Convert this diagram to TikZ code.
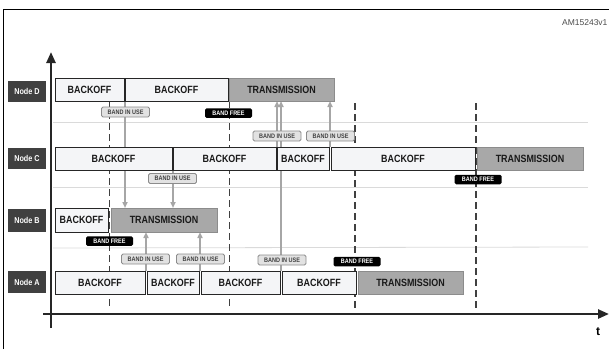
\documentclass[tikz,border=0pt]{standalone}
\usepackage{fontspec}
\setmainfont{Liberation Sans}
\newfontfamily\narrowfont[FakeStretch=0.85]{Liberation Sans}
\usetikzlibrary{arrows.meta}
\definecolor{boxfill}{HTML}{F4F5F7}
\definecolor{txfill}{HTML}{A8A8A8}
\definecolor{darklbl}{HTML}{404040}
\definecolor{arrowgray}{HTML}{A6A6A6}
\definecolor{sepgray}{HTML}{DADADA}
\definecolor{usefill}{HTML}{E2E2E2}
\definecolor{usedraw}{HTML}{8C8C8C}
\tikzset{
  slot/.style={draw=black!85, line width=0.9pt, fill=boxfill, minimum height=23pt, inner sep=0pt,
    font=\narrowfont\fontsize{10.5}{12}\bfseries, text=black!90},
  txslot/.style={slot, fill=txfill, draw=black!45},
  nodelbl/.style={fill=darklbl, text=white, minimum width=38pt, minimum height=21pt, inner sep=0pt,
    font=\narrowfont\fontsize{8.5}{10}\bfseries},
  inuse/.style={draw=usedraw, fill=usefill, rounded corners=1.5pt, line width=0.8pt,
    minimum width=48pt, minimum height=10pt, inner sep=0pt,
    font=\narrowfont\fontsize{6.5}{7}\bfseries, text=black!75},
  free/.style={fill=black, rounded corners=1.5pt, text=white,
    minimum width=47pt, minimum height=9.5pt, inner sep=0pt,
    font=\narrowfont\fontsize{6.5}{7}\bfseries},
  tline/.style={dash pattern=on 6.5pt off 4.5pt, draw=darklbl, line width=1.9pt},
  sig/.style={draw=arrowgray, line width=1.6pt, -{Triangle[width=5pt,length=6pt]}},
  sep/.style={draw=sepgray, line width=0.8pt},
  axis/.style={line width=2.4pt, draw=black!85, -{Triangle[width=9pt,length=11pt]}}
}
\begin{document}
\begin{tikzpicture}[x=1pt,y=-1pt]
\useasboundingbox (0,0) rectangle (609,349);
% frame
\draw[line width=0.9pt] (3,349) -- (3,9) -- (612,9);
\node[anchor=east, font=\fontsize{8.5}{10}\selectfont, text=black!70] (ref) at (611,23) {AM15243v1};

% separator lines
\coordinate (s1a) at (53,122); \coordinate (s1b) at (588,122);
\coordinate (s2a) at (53,187); \coordinate (s2b) at (588,187);
\coordinate (s3a) at (53,248); \coordinate (s3b) at (588,247);
\draw[sep] (s1a) -- (s1b);
\draw[sep] (s2a) -- (s2b);
\draw[sep] (s3a) -- (s3b);

% time marks (dashed)
\coordinate (t1a) at (109.5,101); \coordinate (t1b) at (109.5,308);
\coordinate (t2a) at (229.5,101); \coordinate (t2b) at (229.5,308);
\coordinate (t3a) at (355,103); \coordinate (t3b) at (355,308);
\coordinate (t4a) at (476,103); \coordinate (t4b) at (476,308);
\draw[tline] (t1a) -- (t1b);
\draw[tline] (t2a) -- (t2b);
\draw[tline] (t3a) -- (t3b);
\draw[tline] (t4a) -- (t4b);

% axes
\coordinate (ya) at (51,328); \coordinate (yb) at (51,52);
\coordinate (xa) at (43,314); \coordinate (xb) at (609,314);
\draw[axis] (ya) -- (yb);
\draw[axis] (xa) -- (xb);
\node[font=\fontsize{12}{14}\bfseries] (t) at (598,332) {t};

% signal lines (drawn before the slots so that the slots cover them)
\coordinate (g1s) at (125,101.5);
\coordinate (g2s) at (173,170.5);
\coordinate (g3s) at (277,146.5);
\coordinate (g4s) at (281,270.5);
\coordinate (g5s) at (330,146.5);
\coordinate (g6s) at (146,270.5);
\coordinate (g7s) at (200,270.5);
\coordinate (bt) at (0,208);
\coordinate (bb) at (0,232);
\coordinate (dd) at (0,101);
\draw[sig] (g1s) -- (g1s |- bt);
\draw[sig] (g2s) -- (g2s |- bt);
\draw[sig] (g3s) -- (g3s |- dd);
\draw[sig] (g5s) -- (g5s |- dd);
\draw[sig] (g6s) -- (g6s |- bb);
\draw[sig] (g7s) -- (g7s |- bb);
\draw[sig] (g4s) -- (g4s |- dd);

% node labels
\node[nodelbl] (ld) at (27,91) {Node D};
\node[nodelbl] (lc) at (27,158) {Node C};
\node[nodelbl, minimum height=23pt] (lb) at (27,220.5) {Node B};
\node[nodelbl, minimum height=22pt] (la) at (27,282) {Node A};

% row D
\node[slot, minimum width=69pt] (d1) at (89.5,89.5) {BACKOFF};
\node[slot, minimum width=103pt] (d2) at (176.5,89.5) {BACKOFF};
\node[txslot, minimum width=105pt] (d3) at (281.5,89.5) {TRANSMISSION};
% row C
\node[slot, minimum width=117pt] (c1) at (113.5,158.5) {BACKOFF};
\node[slot, minimum width=103pt] (c2) at (224.5,158.5) {BACKOFF};
\node[slot, minimum width=52pt] (c3) at (303,158.5) {BACKOFF};
\node[slot, minimum width=144pt] (c4) at (403,158.5) {BACKOFF};
\node[txslot, minimum width=106pt] (c5) at (530,158.5) {TRANSMISSION};
% row B
\node[slot, minimum width=53pt, minimum height=24pt] (b1) at (81.5,220) {BACKOFF};
\node[txslot, minimum width=106pt, minimum height=24pt] (b2) at (164,220) {TRANSMISSION};
% row A
\node[slot, minimum width=90pt] (a1) at (100,282.5) {BACKOFF};
\node[slot, minimum width=52pt] (a2) at (173,282.5) {BACKOFF};
\node[slot, minimum width=79pt] (a3) at (240.5,282.5) {BACKOFF};
\node[slot, minimum width=74pt] (a4) at (319,282.5) {BACKOFF};
\node[txslot, minimum width=105pt] (a5) at (410.5,282.5) {TRANSMISSION};

% band labels
\node[inuse] (u1) at (125.5,112) {BAND IN USE};
\node[inuse] (u2) at (172.5,178.5) {BAND IN USE};
\node[inuse] (u3) at (277,136) {BAND IN USE};
\node[inuse] (u4) at (330.5,136) {BAND IN USE};
\node[inuse] (u5) at (145.5,259) {BAND IN USE};
\node[inuse] (u6) at (200.5,259) {BAND IN USE};
\node[inuse] (u7) at (282,260) {BAND IN USE};

\node[free] (f1) at (228.5,113) {BAND FREE};
\node[free] (f2) at (109.5,241) {BAND FREE};
\node[free] (f3) at (357,261.5) {BAND FREE};
\node[free] (f4) at (478,179.5) {BAND FREE};
\end{tikzpicture}
\end{document}
